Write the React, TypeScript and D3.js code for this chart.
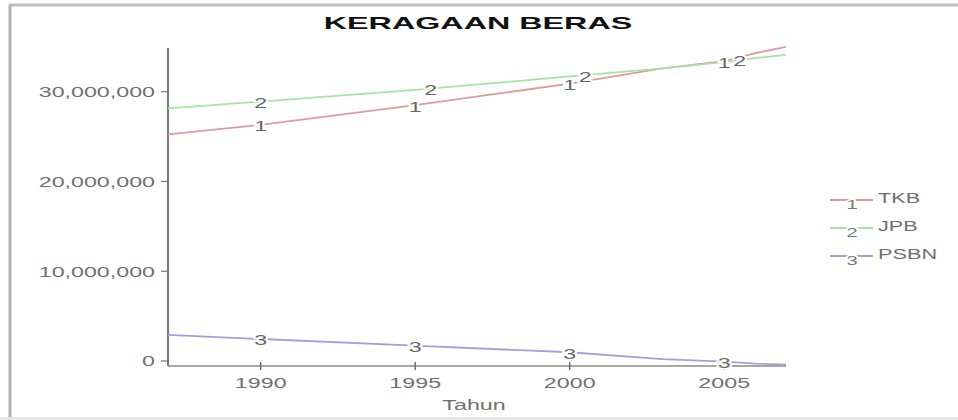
import React from 'react';
import * as d3 from 'd3';

const years = [1987, 1990, 1995, 2000, 2003, 2005, 2006, 2007];
const tkb = [25250000, 26300000, 28500000, 30900000, 32600000, 33400000, 34300000, 35000000];
const jpb = [28150000, 28900000, 30200000, 31700000, 32600000, 33300000, 33750000, 34100000];
const psbn = [2900000, 2450000, 1700000, 970000, 200000, -80000, -300000, -400000];

const seriesNames = ['TKB', 'JPB', 'PSBN'];
const seriesColors = ['#e09a9a', '#a6e4a6', '#a0a0dc'];
// years where the numbered marker sits on each line
const markerYears = [
  [1990, 1995, 2000, 2005],
  [1990, 1995.5, 2000.5, 2005.5],
  [1990, 1995, 2000, 2005],
];

const yTicks = [0, 10000000, 20000000, 30000000];
const xTicks = [1990, 1995, 2000, 2005];

const W = 958;
const H = 420;
const FONT = '"Liberation Sans", Arial, sans-serif';
const SX = 1.55; // the source text is stretched sideways

function Stretched({ x, y, anchor = 'start', size = 15, fill = '#707070', weight = 'normal', sx = SX, children, halo = false }: any) {
  return (
    <text
      transform={`translate(${x},${y}) scale(${sx},1)`}
      textAnchor={anchor}
      dy="0.36em"
      fontSize={size}
      fontWeight={weight}
      fontFamily={FONT}
      fill={fill}
      stroke={halo ? '#fff' : 'none'}
      strokeWidth={halo ? 3 : 0}
      style={{ paintOrder: 'stroke' }}
    >
      {children}
    </text>
  );
}

export default function App() {
  const x = d3.scaleLinear().domain([1987, 2007]).range([168, 786]);
  const y = d3.scaleLinear().domain([-560000, 34870000]).range([366, 48]);
  const fmt = d3.format(',');

  const allSeries = [tkb, jpb, psbn];
  const line = d3.line<number>()
    .x((_, i) => x(years[i]))
    .y(d => y(d));

  const valueAt = (vals: number[], yr: number) => {
    const interp = d3.scaleLinear().domain(years).range(vals);
    return interp(yr);
  };

  return (
    <svg width={W} height={H} style={{ position: 'absolute', left: 0, top: 0, background: '#fff' }}>
      {/* frame */}
      <rect x={0} y={0} width={W} height={H} fill="#fff" />
      <line x1={9} x2={W} y1={5} y2={5} stroke="#bdbdbd" strokeWidth={3} />
      <line x1={10} x2={10} y1={5} y2={418} stroke="#b0b0b0" strokeWidth={3} />
      <rect x={0} y={417} width={W} height={3} fill="#e6e6e6" />

      <Stretched x={478} y={23} anchor="middle" size={17} weight="bold" fill="#111" sx={1.9}>
        KERAGAAN BERAS
      </Stretched>

      {/* y axis */}
      <line x1={168} x2={168} y1={48} y2={366} stroke="#555" strokeWidth={1.6} />
      {yTicks.map(t => (
        <g key={t}>
          <line x1={161} x2={168} y1={y(t)} y2={y(t)} stroke="#777" strokeWidth={1.2} />
          <Stretched x={155} y={y(t)} anchor="end">{fmt(t)}</Stretched>
        </g>
      ))}

      {/* x axis */}
      <line x1={168} x2={786} y1={366} y2={366} stroke="#8a8a8a" strokeWidth={1.4} />
      {xTicks.map(t => (
        <g key={t}>
          <line x1={x(t)} x2={x(t)} y1={362} y2={370} stroke="#666" strokeWidth={1.4} />
          <Stretched x={x(t)} y={383} anchor="middle">{t}</Stretched>
        </g>
      ))}
      <Stretched x={474} y={405} anchor="middle">Tahun</Stretched>

      {/* lines */}
      {allSeries.map((vals, si) => (
        <path key={si} d={line(vals) || ''} fill="none" stroke={seriesColors[si]} strokeWidth={1.8} />
      ))}
      {allSeries.map((vals, si) =>
        markerYears[si].map(yr => (
          <Stretched key={`${si}-${yr}`} x={x(yr)} y={y(valueAt(vals, yr)) + 1} anchor="middle" fill="#666" halo>
            {String(si + 1)}
          </Stretched>
        ))
      )}

      {/* legend */}
      {seriesNames.map((name, i) => {
        const ly = 200 + i * 28;
        return (
          <g key={name}>
            <line x1={830} x2={873} y1={ly} y2={ly} stroke={seriesColors[i]} strokeWidth={1.8} />
            <Stretched x={852} y={ly + 4} anchor="middle" size={13} fill="#777" halo>{String(i + 1)}</Stretched>
            <Stretched x={878} y={ly - 2} anchor="start" size={14}>{name}</Stretched>
          </g>
        );
      })}
    </svg>
  );
}
